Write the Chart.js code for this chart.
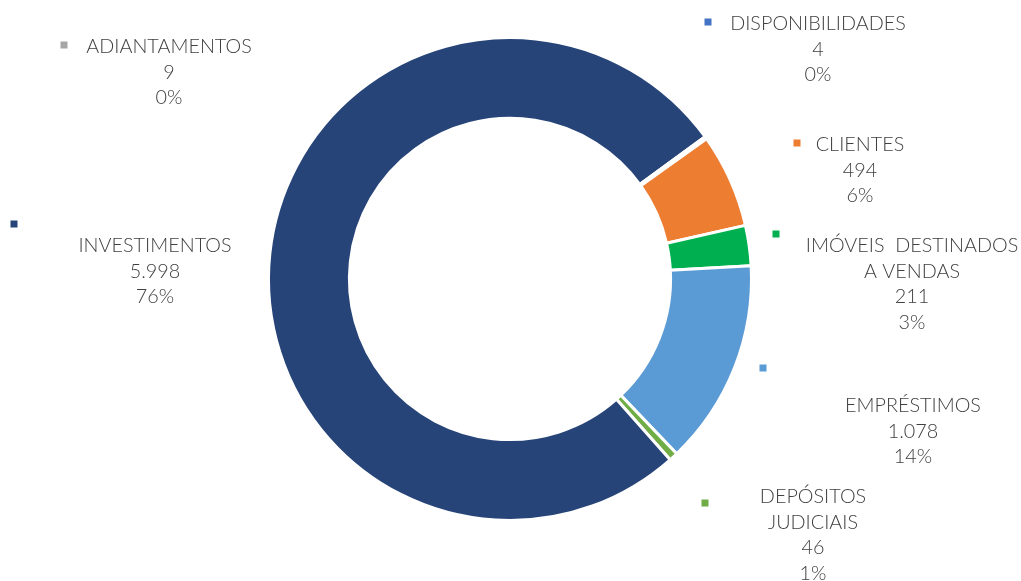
<!DOCTYPE html>
<html>
<head>
<meta charset="utf-8">
<script src="https://cdn.jsdelivr.net/npm/chart.js@4.4.1/dist/chart.umd.min.js"></script>
<style>
  html, body { margin: 0; padding: 0; background: #ffffff; }
  #wrap { width: 1021px; height: 581px; position: relative; }
</style>
</head>
<body>
<div id="wrap"><canvas id="c" width="1021" height="581"></canvas></div>
<script>
// ---- data ----
const categories = [
  ["DISPONIBILIDADES"],
  ["CLIENTES"],
  ["IMÓVEIS  DESTINADOS", "A VENDAS"],
  ["EMPRÉSTIMOS"],
  ["DEPÓSITOS", "JUDICIAIS"],
  ["INVESTIMENTOS"],
  ["ADIANTAMENTOS"]
];
const values = [4, 494, 211, 1078, 46, 5998, 9];
const valueLabels = ["4", "494", "211", "1.078", "46", "5.998", "9"];
const percentLabels = ["0%", "6%", "3%", "14%", "1%", "76%", "0%"];
const colors = ["#4472C4", "#ED7D31", "#00B050", "#5B9BD5", "#70AD47", "#264478", "#A5A5A5"];

// label layout (marker position, text centre x, first-line y)
const labelLayout = [
  { mx: 708, my: 22,  tx: 818, ty: 24 },
  { mx: 797, my: 143, tx: 860, ty: 145 },
  { mx: 776, my: 234, tx: 912, ty: 246 },
  { mx: 763, my: 368, tx: 913, ty: 406 },
  { mx: 705, my: 503, tx: 813, ty: 497 },
  { mx: 14,  my: 224, tx: 155, ty: 246 },
  { mx: 64,  my: 45,  tx: 169, ty: 47 }
];

const calloutPlugin = {
  id: 'callouts',
  afterDraw(chart, args, opts) {
    const ctx = chart.ctx;
    const ds = chart.data.datasets[0];
    ctx.save();
    ctx.font = opts.font;
    ctx.textAlign = 'center';
    ctx.textBaseline = 'middle';
    chart.data.labels.forEach((lab, i) => {
      const L = opts.layout[i];
      const lines = [...lab, opts.valueLabels[i], opts.percentLabels[i]];
      ctx.fillStyle = ds.backgroundColor[i];
      ctx.fillRect(L.mx - 3.5, L.my - 3.5, 7, 7);
      ctx.fillStyle = opts.color;
      lines.forEach((t, k) => {
        ctx.save();
        ctx.translate(L.tx, L.ty + k * opts.lineHeight);
        ctx.scale(opts.hScale, 1.05);
        ctx.fillText(t, 0, 0);
        ctx.restore();
      });
    });
    ctx.restore();
  }
};

new Chart(document.getElementById('c'), {
  type: 'doughnut',
  data: {
    labels: categories,
    datasets: [{
      data: values,
      backgroundColor: colors,
      borderColor: '#ffffff',
      borderWidth: 3,
      hoverOffset: 0
    }]
  },
  options: {
    responsive: false,
    animation: false,
    rotation: 54.3,
    cutout: '66.5%',
    layout: { padding: { top: 36, bottom: 59, left: 267, right: 268 } },
    plugins: {
      legend: { display: false },
      tooltip: { enabled: false },
      callouts: {
        layout: labelLayout,
        valueLabels: valueLabels,
        percentLabels: percentLabels,
        font: '300 18px "Lato"',
        color: '#404040',
        lineHeight: 25.5,
        hScale: 1.1
      }
    }
  },
  plugins: [calloutPlugin]
});
</script>
</body>
</html>
